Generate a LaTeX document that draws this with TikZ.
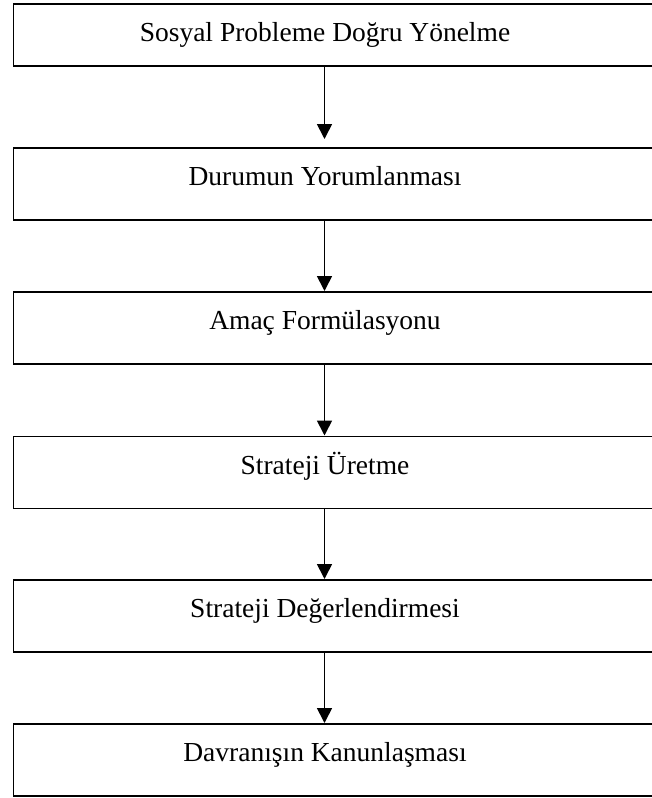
\documentclass[tikz,border=0pt]{standalone}
\usepackage{fontspec}
\setmainfont{Liberation Serif}
\usetikzlibrary{arrows.meta}
\begin{document}
\begin{tikzpicture}[x=1pt,y=-1pt,
  boxshape/.style={draw=black,line width=1.8pt,rectangle,inner sep=0pt,anchor=north west,minimum width=660pt},
  tallbox/.style={boxshape,minimum height=72pt},
  shortbox/.style={boxshape,minimum height=62pt},
  label/.style={anchor=base,inner sep=0pt,font=\fontsize{27.5}{33}\selectfont},
  arr/.style={line width=1.7pt,-{Triangle[width=15pt,length=15pt]}}]
\clip (0,0) rectangle (652,798);
\useasboundingbox (0,0) rectangle (652,798);
\node[shortbox] (b1) at (12.5,3) {};
\node[tallbox] (b2) at (12.5,147) {};
\node[tallbox] (b3) at (12.5,291) {};
\node[tallbox] (b4) at (12.5,435.5) {};
\node[tallbox] (b5) at (12.5,579) {};
\node[tallbox] (b6) at (12.5,723) {};
\node[label] (t1) at (325,41.5) {Sosyal Probleme Doğru Yönelme};
\node[label] (t2) at (325,185.5) {Durumun Yorumlanması};
\node[label] (t3) at (325,329.5) {Amaç Formülasyonu};
\node[label] (t4) at (325,474) {Strateji Üretme};
\node[label] (t5) at (325,617.5) {Strateji Değerlendirmesi};
\node[label] (t6) at (325,761.5) {Davranışın Kanunlaşması};
\coordinate (ax) at (324.5,0);
\draw[arr,shorten >=8pt] (b1.south -| ax) -- (b2.north -| ax);
\draw[arr] (b2.south -| ax) -- (b3.north -| ax);
\draw[arr] (b3.south -| ax) -- (b4.north -| ax);
\draw[arr] (b4.south -| ax) -- (b5.north -| ax);
\draw[arr] (b5.south -| ax) -- (b6.north -| ax);
\end{tikzpicture}
\end{document}
